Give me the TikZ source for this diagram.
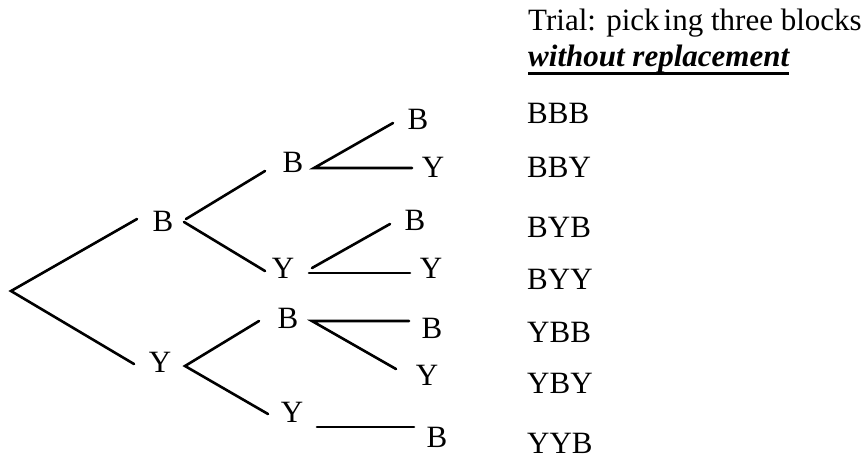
\documentclass[tikz,border=0pt]{standalone}
\usepackage{fontspec}
\setmainfont{Liberation Serif}
\begin{document}
\begin{tikzpicture}[x=1pt,y=-1pt,
  lbl/.style={inner sep=0pt,font=\fontsize{31}{36}\selectfont},
  item/.style={lbl,anchor=west},
  branch/.style={line width=2.6pt,line cap=round}]
\useasboundingbox (0,0) rectangle (867,456);
% title
\node[lbl,anchor=base west] (title) at (528,30) {Trial: pick\kern4pt ing three blocks};
\node[lbl,anchor=base west,font=\fontsize{31}{36}\selectfont\bfseries\itshape] (sub) at (528,66) {without replacement};
\draw[line width=3pt] (sub.base west) ++(0,7) coordinate (ul1) -- (sub.base east |- ul1);
% outcome list
\node[item] (o1) at (527,113) {BBB};
\node[item] (o2) at (527,167) {BBY};
\node[item] (o3) at (527,227) {BYB};
\node[item] (o4) at (527,279) {BYY};
\node[item] (o5) at (527,332) {YBB};
\node[item] (o6) at (527,383) {YBY};
\node[item] (o7) at (527,443) {YYB};
% tree labels
\coordinate (root) at (11,291);
\node[lbl] (B1) at (163,221) {B};
\node[lbl] (Y1) at (160,362) {Y};
\node[lbl] (BB) at (293,162) {B};
\node[lbl] (BY) at (283,268) {Y};
\node[lbl] (YB) at (288,318) {B};
\node[lbl] (YY) at (292,412) {Y};
\node[lbl] (BBB) at (418,119) {B};
\node[lbl] (BBY) at (433,167) {Y};
\node[lbl] (BYB) at (415,220) {B};
\node[lbl] (BYY) at (431,268) {Y};
\node[lbl] (YBB) at (432,328) {B};
\node[lbl] (YBY) at (427,375) {Y};
\node[lbl] (YYB) at (437,437) {B};
% branch end points
\coordinate (b1i) at (137,219);
\coordinate (y1i) at (134,364);
\coordinate (b1o1) at (186,219);
\coordinate (b1o2) at (184,222);
\coordinate (bbi) at (265,171);
\coordinate (byi) at (265,271);
\coordinate (bbo) at (314,168);
\coordinate (bbbi) at (393,123);
\coordinate (bbyi) at (412,168);
\coordinate (byo1) at (312,268);
\coordinate (byo2) at (309,273);
\coordinate (bybi) at (390,224);
\coordinate (byyi) at (410,273);
\coordinate (y1o) at (185,366);
\coordinate (ybi) at (259,321);
\coordinate (yyi) at (268,414);
\coordinate (ybo) at (312,321);
\coordinate (ybbi) at (409,321);
\coordinate (ybyi) at (396,369);
\coordinate (yyo) at (317,427);
\coordinate (yybi) at (414,427);
% branches
\draw[branch] (b1i) -- (root) -- (y1i);
\draw[branch] (bbi) -- (b1o1);
\draw[branch] (b1o2) -- (byi);
\draw[branch] (bbbi) -- (bbo) -- (bbyi);
\draw[branch] (bybi) -- (byo1);
\draw[branch] (byo2) -- (byyi);
\draw[branch] (ybi) -- (y1o) -- (yyi);
\draw[branch] (ybbi) -- (ybo) -- (ybyi);
\draw[branch] (yyo) -- (yybi);
\end{tikzpicture}
\end{document}
